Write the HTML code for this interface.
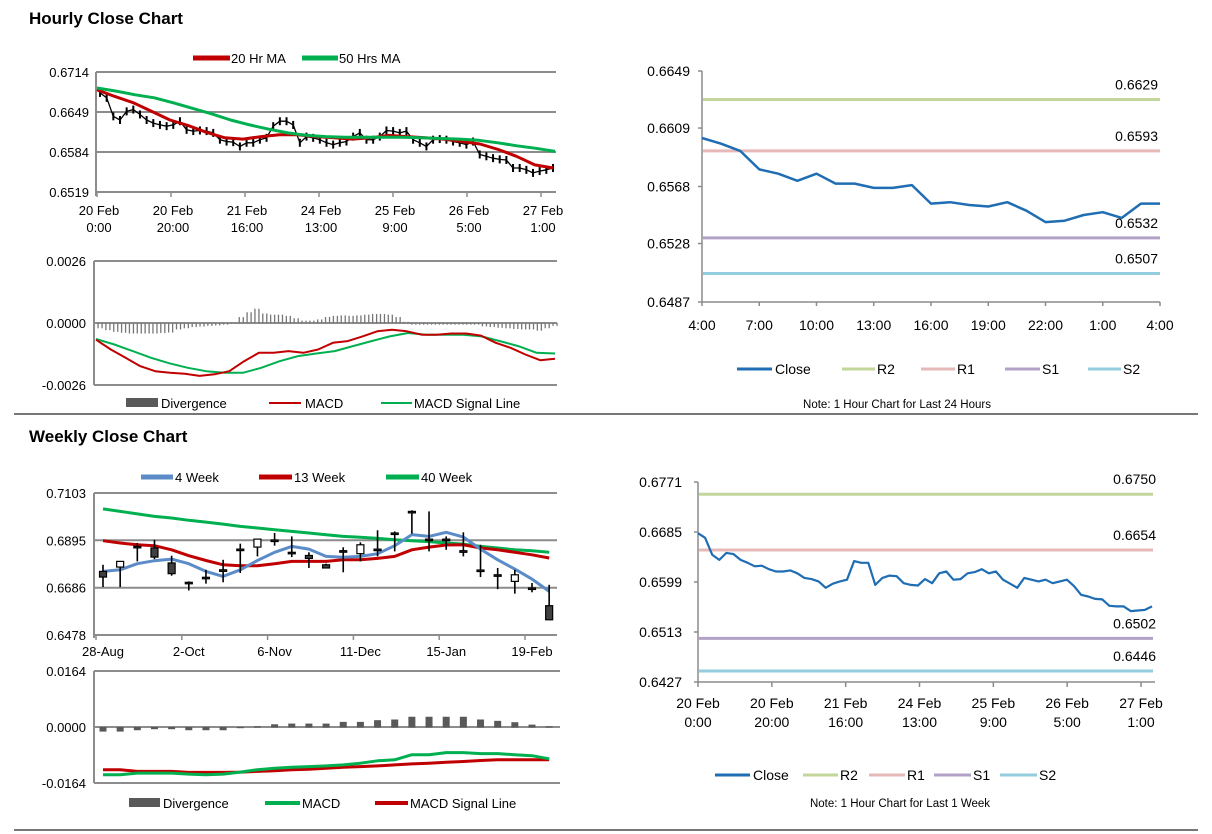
<!DOCTYPE html>
<html><head><meta charset="utf-8"><style>
html,body{margin:0;padding:0;background:#fff;width:1212px;height:834px;overflow:hidden}
svg{display:block;font-family:"Liberation Sans",Arial,sans-serif}
</style></head><body>
<svg id="chart" width="1212" height="834" viewBox="0 0 1212 834" xmlns="http://www.w3.org/2000/svg">
<text x="29" y="24" font-size="17" font-weight="bold" fill="#000">Hourly Close Chart</text>
<text x="29" y="442" font-size="17" font-weight="bold" fill="#000">Weekly Close Chart</text>
<line x1="14" y1="414" x2="1198" y2="414" stroke="#777" stroke-width="2"/>
<line x1="14" y1="830" x2="1198" y2="830" stroke="#777" stroke-width="2"/>
</svg>
<script>
// ---------- DATA ----------
const hourTickLab1=['20 Feb','20 Feb','21 Feb','24 Feb','25 Feb','26 Feb','27 Feb'];
const hourTickLab2=['0:00','20:00','16:00','13:00','9:00','5:00','1:00'];
const hourTickHours=[0,20,40,60,80,100,120];
const hourPriceTicks=[0.6714,0.6649,0.6584,0.6519];
const hourClose=[0.6680,0.6672,0.6642,0.6636,0.6650,0.6653,0.6645,0.6636,0.6631,0.6628,0.6626,0.6628,0.6634,0.6620,0.6618,0.6619,0.6618,0.6615,0.6604,0.6601,0.6600,0.6593,0.6599,0.6599,0.6604,0.6607,0.6626,0.6634,0.6634,0.6628,0.6599,0.6609,0.6607,0.6604,0.6599,0.6596,0.6599,0.6601,0.6609,0.6615,0.6604,0.6604,0.6609,0.6619,0.6618,0.6615,0.6618,0.6604,0.6599,0.6593,0.6604,0.6605,0.6604,0.6601,0.6599,0.6596,0.6601,0.6580,0.6577,0.6574,0.6572,0.6571,0.6558,0.6558,0.6555,0.6550,0.6553,0.6555,0.6558];
const ma20=[0.6685,0.6674,0.6664,0.6650,0.6636,0.6627,0.6616,0.6607,0.6605,0.6609,0.6612,0.6612,0.6609,0.6607,0.6605,0.6607,0.6611,0.6609,0.6607,0.6605,0.6601,0.6597,0.6588,0.6577,0.6563,0.6558];
const ma50=[0.6688,0.6683,0.6677,0.6672,0.6664,0.6655,0.6646,0.6636,0.6628,0.6621,0.6615,0.6611,0.6609,0.6608,0.6608,0.6608,0.6608,0.6607,0.6606,0.6605,0.6603,0.6599,0.6594,0.6590,0.6585];
const hourMacdTicks=[0.0026,0.0000,-0.0026];
const hourMacd=[-0.00070,-0.00111,-0.00146,-0.00181,-0.00202,-0.00209,-0.00213,-0.00222,-0.00215,-0.00202,-0.00160,-0.00125,-0.00125,-0.00118,-0.00125,-0.00111,-0.00083,-0.00076,-0.00056,-0.00035,-0.00028,-0.00035,-0.00049,-0.00049,-0.00044,-0.00044,-0.00053,-0.00083,-0.00104,-0.00132,-0.00156,-0.00150];
const hourSignal=[-0.00067,-0.00090,-0.00118,-0.00146,-0.00169,-0.00188,-0.00202,-0.00209,-0.00209,-0.00188,-0.00160,-0.00139,-0.00128,-0.00118,-0.00097,-0.00076,-0.00056,-0.00042,-0.00049,-0.00049,-0.00049,-0.00056,-0.00076,-0.00097,-0.00125,-0.00128];
const hourDiv=[-0.00020,-0.00028,-0.00035,-0.00039,-0.00042,-0.00042,-0.00042,-0.00042,-0.00040,-0.00038,-0.00025,-0.00020,-0.00015,-0.00013,-0.00010,-0.00008,-0.00005,0.00000,0.00025,0.00045,0.00060,0.00040,0.00035,0.00035,0.00030,0.00020,0.00010,0.00010,0.00015,0.00025,0.00030,0.00032,0.00030,0.00032,0.00035,0.00038,0.00038,0.00035,0.00025,0.00005,-0.00005,-0.00005,-0.00005,-0.00005,-0.00005,-0.00005,-0.00005,-0.00005,-0.00005,-0.00012,-0.00015,-0.00018,-0.00020,-0.00023,-0.00025,-0.00025,-0.00030,-0.00020,-0.00010];

const day24Ticks=[0.6649,0.6609,0.6568,0.6528,0.6487];
const day24XLab=['4:00','7:00','10:00','13:00','16:00','19:00','22:00','1:00','4:00'];
const day24Close=[0.6602,0.6598,0.6593,0.6580,0.6577,0.6572,0.6577,0.6570,0.6570,0.6567,0.6567,0.6569,0.6556,0.6557,0.6555,0.6554,0.6557,0.6551,0.6543,0.6544,0.6548,0.6550,0.6546,0.6556,0.6556];
const levelNames=['R2','R1','S1','S2'];
const levels24=[0.6629,0.6593,0.6532,0.6507];
const levelsWeek=[0.6750,0.6654,0.6502,0.6446];
const weekHourTicks=[0.6771,0.6685,0.6599,0.6513,0.6427];
const weekHourClose=[0.6683,0.6675,0.6646,0.6637,0.6649,0.6647,0.6637,0.6632,0.6626,0.6627,0.6621,0.6617,0.6617,0.6619,0.6614,0.6606,0.6604,0.6600,0.6589,0.6596,0.6600,0.6603,0.6635,0.6632,0.6632,0.6594,0.6606,0.6610,0.6609,0.6597,0.6594,0.6593,0.6604,0.6597,0.6614,0.6617,0.6603,0.6604,0.6614,0.6616,0.6621,0.6614,0.6617,0.6603,0.6596,0.6589,0.6606,0.6603,0.6600,0.6603,0.6597,0.6600,0.6603,0.6592,0.6577,0.6574,0.6570,0.6569,0.6558,0.6557,0.6557,0.6549,0.6550,0.6551,0.6557];

const weekLabels=['28-Aug','2-Oct','6-Nov','11-Dec','15-Jan','19-Feb'];
const weekPriceTicks=[0.7103,0.6895,0.6686,0.6478];
const wOpen =[0.6758,0.6777,0.6868,0.6861,0.6795,0.6710,0.6732,0.6765,0.6856,0.6865,0.6896,0.6842,0.6828,0.6787,0.6849,0.6836,0.6856,0.6927,0.7022,0.6900,0.6900,0.6849,0.6764,0.6743,0.6714,0.6685,0.6607];
const wClose=[0.6733,0.6802,0.6862,0.6821,0.6748,0.6704,0.6726,0.6758,0.6850,0.6900,0.6890,0.6836,0.6815,0.6773,0.6843,0.6875,0.6850,0.6921,0.7016,0.6895,0.6893,0.6842,0.6758,0.6737,0.6743,0.6679,0.6545];
const wHigh =[0.6787,0.6802,0.6883,0.6897,0.6827,0.6714,0.6765,0.6809,0.6880,0.6900,0.6927,0.6912,0.6842,0.6792,0.6864,0.6886,0.6939,0.6934,0.7027,0.7022,0.6912,0.6930,0.6875,0.6773,0.6765,0.6707,0.6699];
const wLow  =[0.6689,0.6689,0.6802,0.6812,0.6739,0.6674,0.6704,0.6710,0.6751,0.6824,0.6871,0.6821,0.6773,0.6771,0.6754,0.6802,0.6824,0.6846,0.6924,0.6846,0.6853,0.6824,0.6733,0.6680,0.6660,0.6666,0.6545];
const ma4 =[0.6758,0.6765,0.6792,0.6805,0.6812,0.6792,0.6758,0.6736,0.6765,0.6806,0.6842,0.6868,0.6856,0.6824,0.6820,0.6824,0.6836,0.6871,0.6920,0.6912,0.6930,0.6909,0.6856,0.6809,0.6768,0.6724,0.6670];
const ma13=[0.6893,0.6883,0.6875,0.6871,0.6853,0.6827,0.6806,0.6787,0.6783,0.6783,0.6792,0.6802,0.6802,0.6802,0.6809,0.6809,0.6815,0.6824,0.6853,0.6865,0.6874,0.6875,0.6861,0.6853,0.6842,0.6831,0.6817];
const ma40=[0.7033,0.7022,0.7011,0.7000,0.6993,0.6983,0.6975,0.6966,0.6956,0.6949,0.6941,0.6934,0.6927,0.6919,0.6912,0.6908,0.6903,0.6897,0.6893,0.6889,0.6883,0.6878,0.6868,0.6861,0.6853,0.6849,0.6842];
const weekMacdTicks=[0.0164,0.0000,-0.0164];
const weekDiv=[-0.0012,-0.0012,-0.0008,-0.0005,-0.0005,-0.0008,-0.0008,-0.0008,-0.0002,0.0002,0.0008,0.0010,0.0010,0.0010,0.0015,0.0015,0.0020,0.0022,0.0030,0.0030,0.0030,0.0030,0.0022,0.0018,0.0014,0.0007,0.0002];
const weekMacd=[-0.0140,-0.0140,-0.0135,-0.0135,-0.0135,-0.0138,-0.0140,-0.0138,-0.0132,-0.0125,-0.0121,-0.0118,-0.0116,-0.0114,-0.0111,-0.0106,-0.0099,-0.0096,-0.0081,-0.0081,-0.0075,-0.0075,-0.0078,-0.0078,-0.0081,-0.0084,-0.0093];
const weekSignal=[-0.0125,-0.0125,-0.0130,-0.0130,-0.0130,-0.0133,-0.0133,-0.0133,-0.0132,-0.0130,-0.0128,-0.0125,-0.0124,-0.0121,-0.0118,-0.0116,-0.0114,-0.0111,-0.0108,-0.0106,-0.0103,-0.0101,-0.0098,-0.0096,-0.0096,-0.0096,-0.0096];

// ---------- HELPERS ----------
const NS='http://www.w3.org/2000/svg';
const svg=document.getElementById('chart');
function mk(tag,a){const e=document.createElementNS(NS,tag);for(const k in a)e.setAttribute(k,a[k]);svg.appendChild(e);return e;}
function lin(d0,d1,r0,r1){return v=>r0+(v-d0)*(r1-r0)/(d1-d0);}
function txt(x,y,s,anchor,size){const t=mk('text',{x:x,y:y,'font-size':size||13,'text-anchor':anchor||'start',fill:'#000'});t.textContent=s;return t;}
function poly(vals,xf,yf,color,w){let d='';vals.forEach((v,i)=>{d+=(i?'L':'M')+xf(i).toFixed(1)+' '+yf(v).toFixed(1);});return mk('path',{d:d,fill:'none',stroke:color,'stroke-width':w,'stroke-linejoin':'round'});}
const GRID='#8c8c8c';

// ---------- CHART 1: hourly price ----------
{
const y=lin(0.6519,0.6714,192,72), xh=lin(0,120,97,541);
hourPriceTicks.forEach((v,i)=>{
 const g=mk('line',{x1:96,x2:556,y1:y(v),y2:y(v),stroke:GRID,'stroke-width':2});
 
 
 const t=txt(89,y(v)+5,v.toFixed(4),'end');
 
 
});
const ax=mk('line',{x1:96,x2:96,y1:72,y2:196,stroke:GRID,'stroke-width':2});


hourTickHours.forEach((h,i)=>{
 const tk=mk('line',{x1:xh(h),x2:xh(h),y1:192,y2:197,stroke:GRID,'stroke-width':1.5});
 
 
 const a=txt(xh(h)+2,215,hourTickLab1[i],'middle');
 
 
 const b=txt(xh(h)+2,232,hourTickLab2[i],'middle');
 
 
});
const xc=lin(0,hourClose.length-1,100,553);
hourClose.forEach((v,i)=>{
 const b=mk('line',{x1:xc(i),x2:xc(i),y1:y(v)-4,y2:y(v)+4,stroke:'#000','stroke-width':2});
 
 
});
const cl=poly(hourClose,xc,y,'#000',1.3);


const r=poly(ma20,lin(0,ma20.length-1,97,553),y,'#c00000',3);


const g=poly(ma50,lin(0,ma50.length-1,97,555),y,'#00b050',3);


const l1=mk('line',{x1:193,x2:230,y1:58,y2:58,stroke:'#c00000','stroke-width':5});


const t1=txt(231,63,'20 Hr MA');


const l2=mk('line',{x1:302,x2:338,y1:58,y2:58,stroke:'#00b050','stroke-width':5});


const t2=txt(339,63,'50 Hrs MA');


}

// ---------- CHART 2: hourly MACD ----------
{
const y=lin(-0.0026,0.0026,385,261);
hourMacdTicks.forEach(v=>{
 const g=mk('line',{x1:94,x2:557,y1:y(v),y2:y(v),stroke:GRID,'stroke-width':2});
 
 
 const t=txt(86,y(v)+5,v.toFixed(4),'end');
 
 
});
const ax=mk('line',{x1:94,x2:94,y1:261,y2:385,stroke:GRID,'stroke-width':2});


const xd=lin(0,hourDiv.length-1,100,555);
hourDiv.forEach((v,i)=>{
 [-2,2].forEach(o=>{
  const b=mk('rect',{x:xd(i)+o-0.6,y:Math.min(y(v),y(0)),width:1.3,height:Math.abs(y(v)-y(0))+0.5,fill:'#777'});
  
  
 });
});
const s=poly(hourSignal,lin(0,hourSignal.length-1,96,555),y,'#00b050',2);


const m=poly(hourMacd,lin(0,hourMacd.length-1,96,555),y,'#c00000',2);


const b=mk('rect',{x:126,y:398,width:32,height:9,fill:'#595959'});


const t1=txt(161,408,'Divergence');


const l2=mk('line',{x1:269,x2:301,y1:403,y2:403,stroke:'#c00000','stroke-width':2});


const t2=txt(305,408,'MACD');


const l3=mk('line',{x1:381,x2:412,y1:403,y2:403,stroke:'#00b050','stroke-width':2});


const t3=txt(414,408,'MACD Signal Line');


}

const LCOL=['#c3d69b','#e6b9b8','#b3a2c7','#93cddd'];
function legendLevels(xs,y,closeX){
 const l=mk('line',{x1:closeX[0],x2:closeX[1],y1:y,y2:y,stroke:'#1f6db3','stroke-width':3});
 
 
 const t=txt(closeX[1]+3,y+5,'Close',null,14);
 
 
 levelNames.forEach((n,i)=>{
  const s=mk('line',{x1:xs[i][0],x2:xs[i][1],y1:y,y2:y,stroke:LCOL[i],'stroke-width':3});
  
  
  const tt=txt(xs[i][1]+2,y+5,n,null,14);
  
  
 });
}

// ---------- CHART 3: 24 hour ----------
{
const y=lin(0.6487,0.6649,302,71), x=lin(0,24,702,1160);
const ax=mk('path',{d:'M702 71V302H1160',fill:'none',stroke:GRID,'stroke-width':1.5});


day24Ticks.forEach(v=>{
 const tk=mk('line',{x1:698,x2:702,y1:y(v),y2:y(v),stroke:GRID,'stroke-width':1.5});
 
 
 const t=txt(690,y(v)+5,v.toFixed(4),'end',14);
 
 
});
day24XLab.forEach((s,i)=>{
 const tk=mk('line',{x1:x(i*3),x2:x(i*3),y1:302,y2:306,stroke:GRID,'stroke-width':1.5});
 
 
 const t=txt(x(i*3),330,s,'middle',14);
 
 
});
levels24.forEach((v,i)=>{
 const l=mk('line',{x1:703,x2:1160,y1:y(v),y2:y(v),stroke:LCOL[i],'stroke-width':3});
 
 
 const t=txt(1158,y(v)-10,v.toFixed(4),'end',14);
 
 
});
const c=poly(day24Close,x,y,'#1f6db3',2.5);


legendLevels([[842,875],[921,955],[1005,1040],[1088,1121]],369,[737,772]);
const n=txt(897,408,'Note: 1 Hour Chart for Last 24 Hours','middle',11.5);


}

// ---------- CHART 4: week hourly ----------
{
const y=lin(0.6427,0.6771,682,482), xh=lin(0,120,698,1141);
const ax=mk('path',{d:'M698 482V682H1155',fill:'none',stroke:GRID,'stroke-width':1.5});


weekHourTicks.forEach(v=>{
 const tk=mk('line',{x1:694,x2:698,y1:y(v),y2:y(v),stroke:GRID,'stroke-width':1.5});
 
 
 const t=txt(682,y(v)+5,v.toFixed(4),'end',14);
 
 
});
hourTickHours.forEach((h,i)=>{
 const tk=mk('line',{x1:xh(h),x2:xh(h),y1:682,y2:687,stroke:GRID,'stroke-width':1.5});
 
 
 const a=txt(xh(h),708,hourTickLab1[i],'middle',14);
 
 
 const b=txt(xh(h),727,hourTickLab2[i],'middle',14);
 
 
});
levelsWeek.forEach((v,i)=>{
 const l=mk('line',{x1:699,x2:1153,y1:y(v),y2:y(v),stroke:LCOL[i],'stroke-width':3});
 
 
 const t=txt(1156,y(v)-10,v.toFixed(4),'end',14);
 
 
});
const c=poly(weekHourClose,lin(0,weekHourClose.length-1,698,1152),y,'#1f6db3',2.2);


legendLevels([[803,838],[869,905],[934,971],[1000,1037]],775,[715,750]);
const n=txt(900,807,'Note: 1 Hour Chart for Last 1 Week','middle',11.5);


}

// ---------- CHART 5: weekly candles ----------
{
const y=lin(0.6478,0.7103,635,493), x=lin(0,25,103,532);
weekPriceTicks.forEach(v=>{
 const g=mk('line',{x1:94,x2:557,y1:y(v),y2:y(v),stroke:GRID,'stroke-width':2});
 
 
 const t=txt(86,y(v)+5,v.toFixed(4),'end');
 
 
});
const ax=mk('line',{x1:94,x2:94,y1:493,y2:638,stroke:GRID,'stroke-width':2});


weekLabels.forEach((s,i)=>{
 const tk=mk('line',{x1:x(i*5)-7,x2:x(i*5)-7,y1:635,y2:640,stroke:GRID,'stroke-width':1.5});
 
 
 const t=txt(x(i*5),656,s,'middle');
 
 
});
const g40=poly(ma40,x,y,'#00b050',3);


const r13=poly(ma13,x,y,'#c00000',3);


const b4=poly(ma4,x,y,'#5b8cc8',3);


wOpen.forEach((o,i)=>{
 const c=wClose[i];
 const w=mk('line',{x1:x(i),x2:x(i),y1:y(wHigh[i]),y2:y(wLow[i]),stroke:'#000','stroke-width':1.6});
 
 
 const top=Math.min(y(o),y(c)), h=Math.max(Math.abs(y(o)-y(c)),1.5);
 const b=mk('rect',{x:x(i)-3.5,y:top,width:7,height:h,fill:c>=o?'#fff':'#404040',stroke:'#000','stroke-width':1.2});
 
 
});
const legs=[[141,173,'#5b8cc8','4 Week'],[259,292,'#c00000','13 Week'],[386,419,'#00b050','40 Week']];
legs.forEach(L=>{
 const s=mk('line',{x1:L[0],x2:L[1],y1:477,y2:477,stroke:L[2],'stroke-width':5});
 
 
 const t=txt(L[1]+2,482,L[3]);
 
 
});
}

// ---------- CHART 6: weekly MACD ----------
{
const y=lin(-0.0164,0.0164,783,671), x=lin(0,25,103,532);
weekMacdTicks.forEach(v=>{
 const g=mk('line',{x1:94,x2:560,y1:y(v),y2:y(v),stroke:GRID,'stroke-width':2});
 
 
 const t=txt(86,y(v)+5,v.toFixed(4),'end');
 
 
});
const ax=mk('line',{x1:94,x2:94,y1:671,y2:783,stroke:GRID,'stroke-width':2});


weekDiv.forEach((v,i)=>{
 const b=mk('rect',{x:x(i)-3.5,y:Math.min(y(v),y(0)),width:7,height:Math.abs(y(v)-y(0))+0.5,fill:'#595959'});
 
 
});
const s=poly(weekSignal,x,y,'#c00000',3);


const m=poly(weekMacd,x,y,'#00b050',3);


const b=mk('rect',{x:129,y:798,width:31,height:9,fill:'#595959'});


const t1=txt(163,808,'Divergence');


const l2=mk('line',{x1:265,x2:300,y1:803,y2:803,stroke:'#00b050','stroke-width':4});


const t2=txt(302,808,'MACD');


const l3=mk('line',{x1:375,x2:408,y1:803,y2:803,stroke:'#c00000','stroke-width':4});


const t3=txt(410,808,'MACD Signal Line');


}
</script>
</body></html>
